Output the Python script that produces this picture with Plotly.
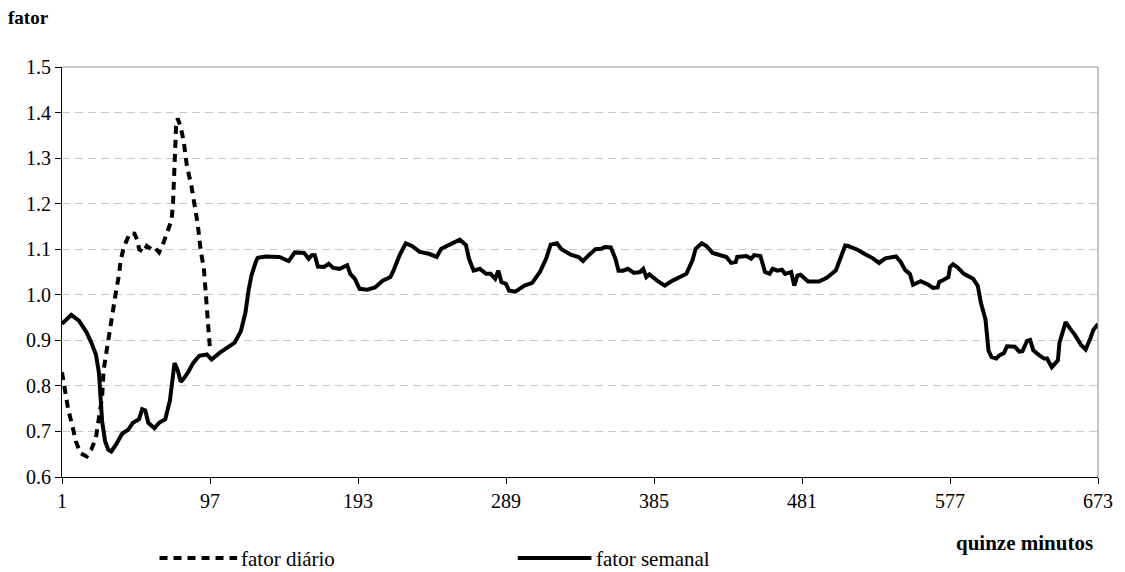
import plotly.graph_objects as go

# Weekly factor (quarter-hour index -> factor)
semanal_x = [1, 7, 12, 17, 20, 23, 25, 26, 27, 29, 31, 33, 36, 40, 44, 47, 51, 53, 55, 57, 61, 64, 68,
             71, 73, 74, 76, 78, 80, 83, 86, 90, 95, 98, 103, 108, 113, 117, 120, 122, 124, 127, 128,
             133, 142, 148, 152, 158, 161, 163, 165, 167, 171, 174, 177, 181, 186, 188, 191, 194, 199,
             204, 209, 214, 216, 220, 224, 228, 233, 239, 244, 247, 252, 259, 263, 265, 268, 272, 276,
             279, 282, 284, 286, 289, 291, 295, 301, 306, 311, 315, 318, 322, 325, 331, 336, 339, 343,
             347, 351, 353, 357, 360, 362, 365, 368, 372, 376, 378, 380, 382, 387, 392, 396, 402, 406,
             410, 412, 416, 419, 423, 427, 432, 435, 438, 439, 445, 448, 450, 454, 457, 460, 462, 465,
             468, 470, 474, 476, 478, 480, 485, 492, 497, 503, 506, 509, 511, 517, 522, 527, 531, 535,
             542, 545, 548, 551, 553, 558, 563, 566, 569, 570, 573, 576, 577, 579, 582, 586, 592, 595,
             597, 600, 602, 604, 607, 609, 612, 614, 619, 622, 624, 627, 629, 631, 635, 638, 640, 643,
             647, 648, 650, 652, 655, 658, 662, 665, 668, 670, 673]
semanal_y = [0.936, 0.956, 0.943, 0.917, 0.895, 0.869, 0.828, 0.775, 0.723, 0.678, 0.660, 0.656, 0.671,
             0.695, 0.704, 0.719, 0.727, 0.749, 0.746, 0.719, 0.707, 0.719, 0.727, 0.768, 0.820, 0.850,
             0.835, 0.809, 0.816, 0.831, 0.850, 0.866, 0.869, 0.858, 0.872, 0.883, 0.895, 0.920, 0.961,
             1.010, 1.044, 1.075, 1.081, 1.084, 1.083, 1.074, 1.093, 1.092, 1.079, 1.087, 1.087, 1.062,
             1.061, 1.068, 1.059, 1.057, 1.065, 1.046, 1.035, 1.013, 1.011, 1.016, 1.031, 1.039, 1.053,
             1.087, 1.113, 1.107, 1.094, 1.090, 1.083, 1.101, 1.110, 1.121, 1.109, 1.079, 1.053, 1.057,
             1.046, 1.046, 1.035, 1.053, 1.028, 1.024, 1.009, 1.007, 1.020, 1.026, 1.050, 1.079, 1.110,
             1.113, 1.100, 1.088, 1.083, 1.074, 1.088, 1.100, 1.101, 1.105, 1.104, 1.079, 1.053, 1.053,
             1.057, 1.048, 1.050, 1.057, 1.039, 1.045, 1.031, 1.020, 1.029, 1.039, 1.046, 1.076, 1.101,
             1.113, 1.107, 1.092, 1.087, 1.083, 1.070, 1.072, 1.083, 1.085, 1.079, 1.087, 1.085, 1.050,
             1.046, 1.057, 1.053, 1.055, 1.046, 1.050, 1.020, 1.042, 1.044, 1.029, 1.029, 1.037, 1.054,
             1.080, 1.108, 1.107, 1.099, 1.089, 1.080, 1.070, 1.080, 1.084, 1.072, 1.054, 1.046, 1.022,
             1.030, 1.022, 1.015, 1.016, 1.028, 1.033, 1.039, 1.061, 1.067, 1.060, 1.046, 1.035, 1.020,
             0.983, 0.946, 0.877, 0.863, 0.860, 0.867, 0.872, 0.887, 0.886, 0.875, 0.876, 0.899, 0.901,
             0.878, 0.867, 0.860, 0.860, 0.841, 0.856, 0.895, 0.917, 0.940, 0.925, 0.912, 0.890, 0.880,
             0.904, 0.923, 0.936]

# Daily factor (first day only)
diario_x = [1, 3, 5, 8, 10, 13, 17, 20, 23, 25, 27, 28, 30, 32, 34, 36, 38, 39, 41, 43, 45, 48, 50, 51,
            54, 56, 59, 61, 64, 66, 68, 70, 72, 73, 74, 75, 76, 78, 80, 82, 85, 87, 89, 91, 93, 94, 95,
            96, 97]
diario_y = [0.830, 0.790, 0.749, 0.708, 0.678, 0.652, 0.645, 0.660, 0.686, 0.731, 0.775, 0.835, 0.880,
            0.917, 0.962, 1.007, 1.044, 1.074, 1.104, 1.122, 1.135, 1.134, 1.119, 1.100, 1.093, 1.107,
            1.100, 1.104, 1.093, 1.107, 1.126, 1.145, 1.163, 1.200, 1.300, 1.370, 1.387, 1.369, 1.335,
            1.283, 1.238, 1.200, 1.156, 1.096, 1.059, 1.014, 0.962, 0.925, 0.880]

x_ticks = [1, 97, 193, 289, 385, 481, 577, 673]
y_ticks = [0.6, 0.7, 0.8, 0.9, 1.0, 1.1, 1.2, 1.3, 1.4, 1.5]

W, H = 1125, 572
ML, MR, MT, MB = 62, 22, 67, 95
PW, PH = W - ML - MR, H - MT - MB


def px(x):
    return (x - ML) / PW


def py(y):
    return (H - MB - y) / PH


FONT = "Times New Roman, Liberation Serif, DejaVu Serif, serif"
DASH = "8px,6px"
LW = 4

fig = go.Figure()
fig.add_trace(go.Scatter(x=diario_x, y=diario_y, mode="lines", name="fator diário",
                         line=dict(color="black", width=LW, dash=DASH), showlegend=False))
fig.add_trace(go.Scatter(x=semanal_x, y=semanal_y, mode="lines", name="fator semanal",
                         line=dict(color="black", width=LW), showlegend=False))

shapes = [
    # plot-area frame (top and right)
    dict(type="line", xref="paper", yref="paper", x0=0, x1=1, y0=1, y1=1,
         line=dict(color="#8c8c8c", width=1)),
    dict(type="line", xref="paper", yref="paper", x0=1, x1=1, y0=0, y1=1,
         line=dict(color="#8c8c8c", width=1)),
    # legend samples
    dict(type="line", xref="paper", yref="paper", x0=px(160), x1=px(238), y0=py(558), y1=py(558),
         line=dict(color="black", width=LW, dash=DASH)),
    dict(type="line", xref="paper", yref="paper", x0=px(520), x1=px(594), y0=py(558), y1=py(558),
         line=dict(color="black", width=LW)),
]

annotations = [
    dict(text="<b>fator</b>", xref="paper", yref="paper", x=px(6), y=py(18), xanchor="left",
         yanchor="middle", showarrow=False, font=dict(family=FONT, size=19, color="black")),
    dict(text="<b>quinze minutos</b>", xref="paper", yref="paper", x=px(1100), y=py(543),
         xanchor="right", yanchor="middle", showarrow=False,
         font=dict(family=FONT, size=21, color="black")),
    dict(text="fator diário", xref="paper", yref="paper", x=px(240), y=py(559), xanchor="left",
         yanchor="middle", showarrow=False, font=dict(family=FONT, size=21, color="black")),
    dict(text="fator semanal", xref="paper", yref="paper", x=px(597), y=py(559), xanchor="left",
         yanchor="middle", showarrow=False, font=dict(family=FONT, size=21, color="black")),
]

fig.update_layout(
    width=W, height=H,
    margin=dict(l=ML, r=MR, t=MT, b=MB),
    paper_bgcolor="white", plot_bgcolor="white",
    font=dict(family=FONT, size=20, color="black"),
    shapes=shapes, annotations=annotations,
    showlegend=False,
)
fig.update_xaxes(range=[1, 673], tickvals=x_ticks, ticktext=[str(v) for v in x_ticks],
                 showgrid=False, zeroline=False, showline=True, linecolor="black", linewidth=1,
                 ticks="outside", ticklen=6, tickcolor="black",
                 tickfont=dict(family=FONT, size=20, color="black"))
fig.update_yaxes(range=[0.6, 1.5], tickvals=y_ticks, tickformat=".1f",
                 showgrid=True, gridcolor="#c8c8c8", gridwidth=1, griddash="8px,5px",
                 zeroline=False, showline=True, linecolor="black", linewidth=1,
                 ticks="outside", ticklen=6, tickcolor="black",
                 tickfont=dict(family=FONT, size=20, color="black"))

fig.write_html("out.html")
